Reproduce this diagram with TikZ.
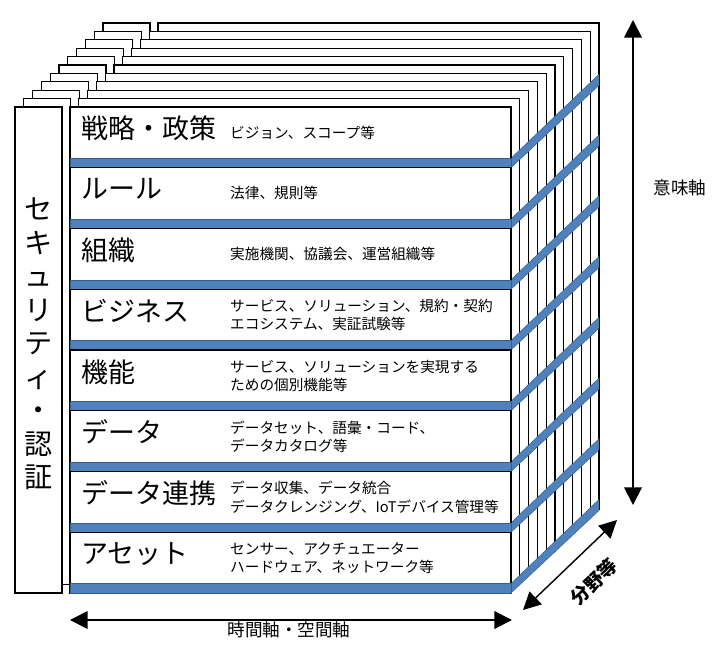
\documentclass[tikz,border=0pt]{standalone}
\usepackage{fontspec}
\setmainfont{Noto Sans CJK JP}
\usetikzlibrary{arrows.meta}
\usetikzlibrary{positioning}

\definecolor{barblue}{RGB}{79,129,189}
\definecolor{baredge}{RGB}{56,93,138}

\tikzset{
    panel/.style={draw=black, line width=1.1pt, fill=white},
    bluebar/.style={fill=barblue, draw=baredge, line width=0.4pt},
    axis/.style={line width=1.6pt,
        {Triangle[length=15pt,width=15pt]}-{Triangle[length=15pt,width=15pt]}},
    title/.style={anchor=west, inner sep=0pt, font=\fontsize{23}{26}\selectfont},
    desc/.style={anchor=west, align=left, inner sep=0pt, font=\fontsize{12.5}{15.2}\selectfont},
    axislabel/.style={inner sep=0pt, font=\fontsize{15}{18}\selectfont}
}

\begin{document}
\begin{tikzpicture}[x=0.03cm, y=-0.03cm]
    \useasboundingbox (0,0) rectangle (727,662);

    % layers behind the front one
    \foreach \k in {10,...,1} {
        \begin{scope}[shift={(8.8*\k,-8.4*\k)}]
            \draw[panel] (15,107) rectangle (62,593);
            \draw[panel] (70,107) rectangle (511,593);
        \end{scope}
    }

    % bands on the side
    \foreach \i in {1,...,8} {
        \filldraw[bluebar] (511,107+60.75*\i-9.5) -- ++(88,-84) -- ++(0,11)
            -- (511,107+60.75*\i) -- cycle;
    }

    % front layer
    \draw[panel] (15,107) rectangle (62,593);
    \foreach \i in {0,...,7} {
        \draw[panel] (70,107+60.75*\i) rectangle (511,107+60.75*\i+60.75);
        \filldraw[bluebar] (70,107+60.75*\i+51.25) rectangle (511,107+60.75*\i+60.75);
    }

    % security
    \node[align=center, inner sep=0pt, font=\fontsize{24}{28.6}\selectfont]
        (security) at (38.5,344) {セ\\キ\\ュ\\リ\\テ\\ィ\\・\\認\\証};

    % rows
    \node[title] (strategy) at (81,128) {戦略・政策};
    \node[desc] (strategyd) at (230,133) {ビジョン、スコープ等};

    \node[title] (rule) at (81,189) {ルール};
    \node[desc] (ruled) at (230,193) {法律、規則等};

    \node[title] (org) at (81,250) {組織};
    \node[desc] (orgd) at (230,254) {実施機関、協議会、運営組織等};

    \node[title] (business) at (81,311) {ビジネス};
    \node[desc] (businessd) at (230,315) {サービス、ソリューション、規約・契約\\エコシステム、実証試験等};

    \node[title] (function) at (81,372) {機能};
    \node[desc] (functiond) at (230,376) {サービス、ソリューションを実現する\\ための個別機能等};

    \node[title] (data) at (81,432) {データ};
    \node[desc] (datad) at (230,437) {データセット、語彙・コード、\\データカタログ等};

    \node[title] (linkage) at (81,493) {データ連携};
    \node[desc, font=\fontsize{12.5}{16.2}\selectfont] (linkaged) at (230,497)
        {データ収集、データ統合\\データクレンジング、IoTデバイス管理等};

    \node[title] (asset) at (81,554) {アセット};
    \node[desc] (assetd) at (230,558) {センサー、アクチュエーター\\ハードウェア、ネットワーク等};

    % axes
    \coordinate (meantop) at (633,20);
    \coordinate (meanbot) at (633,505);
    \draw[axis] (meanbot) -- (meantop);
    \node[axislabel] (meaning) at (680,188) {意味軸};

    \coordinate (timeleft) at (70,620);
    \coordinate (timeright) at (512,620);
    \draw[axis] (timeleft) -- (timeright);
    \node[axislabel] (time) at (289,630) {時間軸・空間軸};

    \coordinate (fieldnear) at (523,610);
    \coordinate (fieldfar) at (617,520);
    \draw[axis, line width=1.2pt] (fieldnear) -- (fieldfar);
    \node[axislabel, rotate=44, font=\fontsize{16}{18}\selectfont\bfseries]
        (field) at (594,582) {分野等};

\end{tikzpicture}
\end{document}
